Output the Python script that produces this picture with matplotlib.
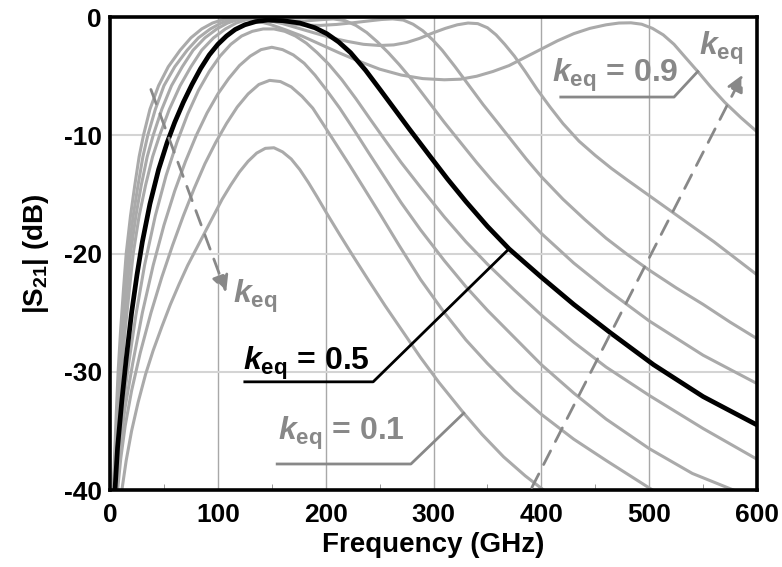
import matplotlib
matplotlib.use("Agg")
import matplotlib.pyplot as plt

plt.rcParams['font.family'] = ['Liberation Sans', 'DejaVu Sans']
plt.rcParams['font.weight'] = 'bold'
plt.rcParams['axes.unicode_minus'] = False
plt.rcParams['mathtext.fontset'] = 'custom'
plt.rcParams['mathtext.rm'] = 'Liberation Sans:bold'
plt.rcParams['mathtext.it'] = 'Liberation Sans:italic:bold'
plt.rcParams['mathtext.bf'] = 'Liberation Sans:bold'

# |S21| curves, (GHz, dB) per coupling factor
k_values = [0.1, 0.2, 0.3, 0.4, 0.5, 0.6, 0.7, 0.8, 0.9]

f_01 = [11, 15, 20, 26, 33, 40, 48, 56, 64, 72, 80, 88, 96, 104, 112, 120, 128, 136, 144, 152,
        160, 168, 176, 184, 192, 201, 213, 226, 240, 255, 270, 288, 305, 328, 345, 365, 385, 402]
s_01 = [-40, -37.5, -35.0, -32.6, -30.2, -28.2, -26.2, -24.3, -22.6, -21.0, -19.6, -18.2, -16.8, -15.4, -14.2, -13.1, -12.2, -11.5, -11.1, -11.05,
        -11.4, -12.0, -12.9, -14.0, -15.2, -16.6, -18.4, -20.3, -22.3, -24.4, -26.4, -28.8, -30.9, -33.5, -35.3, -37.2, -38.8, -40]

f_02 = [7, 10, 14, 20, 28, 38, 48, 58, 68, 78, 88, 98, 108, 118, 128, 138, 148, 158, 168, 178,
        188, 198, 210, 222, 235, 250, 268, 288, 310, 330, 350, 375, 400, 430, 460, 503]
s_02 = [-40, -37.3, -34.6, -31.6, -28.4, -25.0, -22.0, -19.3, -16.8, -14.5, -12.4, -10.6, -9.0, -7.6, -6.5, -5.7, -5.35, -5.45, -5.9, -6.7,
        -7.7, -9.1, -10.8, -12.5, -14.4, -16.6, -19.3, -22.2, -25.0, -27.3, -29.3, -31.6, -33.6, -35.7, -37.5, -40]

f_03 = [5.5, 9, 14, 21, 30, 40, 50, 60, 70, 80, 90, 100, 110, 120, 130, 140, 150, 160, 170, 180,
        190, 201, 213, 226, 240, 255, 270, 288, 310, 330, 350, 375, 400, 430, 460, 500, 540, 578]
s_03 = [-40, -36.5, -33, -29.3, -25, -21, -17.6, -14.7, -12.2, -10.0, -8.1, -6.5, -5.2, -4.1, -3.3, -2.75, -2.55, -2.75, -3.2, -3.9,
        -4.9, -6.2, -7.7, -9.5, -11.5, -13.6, -15.7, -18.0, -20.6, -22.8, -24.8, -27.1, -29.4, -31.8, -34.0, -36.5, -38.6, -40]

f_04 = [5, 8, 12, 17, 24, 32, 42, 52, 62, 72, 82, 92, 102, 112, 122, 132, 142, 152, 162, 172,
        182, 192, 203, 215, 228, 241, 255, 270, 288, 310, 330, 350, 375, 400, 430, 460, 500, 550, 600]
s_04 = [-40, -36.5, -33, -29.5, -25.2, -21, -16.8, -13.4, -10.6, -8.2, -6.2, -4.6, -3.3, -2.3, -1.6, -1.2, -1.0, -1.0, -1.2, -1.6,
        -2.2, -3.0, -4.0, -5.3, -6.9, -8.6, -10.4, -12.3, -14.4, -16.9, -19.0, -20.9, -23.1, -25.2, -27.5, -29.6, -32.0, -34.8, -37.4]

f_05 = [4.6, 7, 11, 15, 20, 25, 30, 37, 45, 53, 60, 68, 76, 84, 92, 100, 108, 116, 125, 135, 146,
        160, 176, 190, 201, 212, 223, 237, 251, 264, 277, 287, 297, 313, 330, 350, 370, 400, 430, 464,
        504, 550, 600]
s_05 = [-40, -36.4, -32.4, -28.9, -25.0, -21.8, -19.0, -15.8, -12.9, -10.6, -8.9, -7.2, -5.7, -4.35, -3.2, -2.3, -1.6, -1.05, -0.65, -0.38, -0.25,
        -0.3, -0.5, -0.9, -1.4, -2.1, -3.0, -4.5, -6.2, -7.8, -9.4, -10.6, -11.8, -13.7, -15.6, -17.7, -19.6, -22.0, -24.3, -26.7,
        -29.4, -32.1, -34.5]

f_06 = [4.1, 6, 8, 10.5, 14, 18, 21.5, 27, 33, 39.5, 46, 55, 65, 75, 85, 96, 107, 117, 127, 137,
        150, 165, 180, 195, 207, 218, 228, 238, 248, 258, 268, 280, 295, 310, 325, 340, 355, 375, 400,
        430, 460, 500, 550, 600]
s_06 = [-40, -36.5, -33.5, -30, -26.5, -23, -20, -16.8, -14.2, -11.8, -10, -7.8, -5.8, -4.2, -2.8, -1.75, -1.0, -0.5, -0.2, -0.05,
        -0.15, -0.3, -0.33, -0.22, -0.15, -0.3, -0.7, -1.3, -2.1, -3.0, -4.0, -5.3, -7.1, -8.9, -10.6, -12.3, -13.9, -15.9, -18.3,
        -20.8, -23.0, -25.7, -28.6, -31.0]

f_07 = [3.7, 5.5, 7.2, 9.2, 12.3, 15.8, 19, 24, 29, 34.5, 40, 48, 57, 67, 77, 88, 99, 109, 119, 129,
        140, 152, 165, 180, 195, 210, 225, 240, 252, 262, 272, 281, 290, 299, 308, 320, 333, 346, 360,
        373, 386, 400, 420, 440, 460, 480, 500, 525, 550, 575, 600]
s_07 = [-40, -36.5, -33.5, -30, -26.5, -23, -20, -16.8, -14.2, -11.8, -10, -7.8, -5.8, -4.2, -2.8, -1.75, -1.0, -0.5, -0.2, -0.05,
        -0.15, -0.35, -0.55, -0.68, -0.7, -0.62, -0.48, -0.32, -0.2, -0.15, -0.25, -0.6, -1.15, -1.9, -2.8, -4.2, -5.8, -7.4, -9.0,
        -10.5, -12.0, -13.5, -15.4, -17.1, -18.7, -20.1, -21.4, -22.9, -24.3, -25.8, -27.2]

f_08 = [3.3, 5, 6.5, 8.3, 11, 14, 17, 21.5, 26, 30.5, 35, 42, 50, 60, 71.5, 82, 93, 103, 113, 123,
        133, 145, 160, 175, 190, 205, 220, 235, 250, 263, 275, 287, 299, 311, 322, 332, 341, 350, 358,
        366, 375, 385, 396, 408, 420, 435, 450, 465, 480, 500, 520, 540, 560, 580, 600]
s_08 = [-40, -36.5, -33.5, -30, -26.5, -23, -20, -16.8, -14.2, -11.8, -10, -7.8, -5.8, -4.2, -2.8, -1.75, -1.0, -0.5, -0.2, -0.05,
        -0.1, -0.25, -0.55, -0.95, -1.35, -1.75, -2.05, -2.3, -2.4, -2.35, -2.15, -1.8, -1.35, -0.95, -0.65, -0.5, -0.55, -0.9, -1.5,
        -2.3, -3.3, -4.6, -6.1, -7.6, -9.0, -10.5, -11.7, -12.8, -13.8, -15.1, -16.4, -17.7, -19.0, -20.4, -21.8]

f_09 = [3, 4.5, 5.8, 7.5, 9.8, 12.5, 15, 19, 23, 27, 31, 37, 45, 54, 65, 75, 85, 95, 105, 115,
        125, 135, 148, 162, 178, 195, 212, 230, 250, 270, 290, 310, 325, 340, 355, 370, 385, 400, 415,
        430, 445, 460, 472, 483, 493, 503, 513, 523, 533, 545, 557, 570, 585, 600]
s_09 = [-40, -36.5, -33.5, -30, -26.5, -23, -20, -16.8, -14.2, -11.8, -10, -7.8, -5.8, -4.2, -2.8, -1.75, -1.0, -0.5, -0.2, -0.05,
        -0.1, -0.3, -0.6, -1.05, -1.6, -2.3, -3.0, -3.7, -4.4, -4.9, -5.2, -5.3, -5.25, -5.0, -4.6, -4.1, -3.4, -2.7, -2.0,
        -1.4, -0.95, -0.65, -0.5, -0.48, -0.6, -0.95, -1.5, -2.3, -3.35, -4.6, -5.9, -7.2, -8.5, -9.7]

freqs = [f_01, f_02, f_03, f_04, f_05, f_06, f_07, f_08, f_09]
s21 = [s_01, s_02, s_03, s_04, s_05, s_06, s_07, s_08, s_09]

gray = '#aaaaaa'
dark_gray = '#888888'

fig = plt.figure(figsize=(7.82, 5.67), dpi=100)
ax = fig.add_axes([0.1407, 0.1358, 0.8274, 0.834])

for k, f, s in zip(k_values, freqs, s21):
    if k == 0.5:
        continue
    ax.plot(f, s, color=gray, lw=2.2, zorder=3, solid_joinstyle='round')
ax.plot(f_05, s_05, color='black', lw=3.4, zorder=4, solid_joinstyle='round')

ax.set_xlim(0, 600)
ax.set_ylim(-40, 0)
ax.set_xticks([0, 100, 200, 300, 400, 500, 600])
ax.set_yticks([-40, -30, -20, -10, 0])
ax.set_xticks([50, 150, 250, 350, 450, 550], minor=True)
ax.tick_params(which='major', direction='in', length=0, labelsize=19)
ax.tick_params(axis='x', which='major', pad=9)
ax.tick_params(axis='y', which='major', pad=6)
ax.tick_params(which='minor', direction='in', length=4, color='#888888')
ax.grid(True, axis='x', color='#a8a8a8', lw=1.0)
ax.grid(True, axis='y', color='#d4d4d4', lw=1.5)
ax.set_axisbelow(True)
for sp in ax.spines.values():
    sp.set_linewidth(2.6)
    sp.set_zorder(5)

ax.set_xlabel('Frequency (GHz)', fontsize=20, fontweight='bold', labelpad=4)
ax.set_ylabel(r'|S$_{\mathrm{21}}$| (dB)', fontsize=20, fontweight='bold', labelpad=9)

keq = r'$k_{\mathrm{eq}}$'

# k_eq = 0.5 label with leader
ax.text(123, -29.8, keq + ' = 0.5', fontsize=23, color='black', zorder=6)
ax.plot([125, 244, 370], [-30.85, -30.85, -19.6], color='black', lw=2.0, zorder=6)

# k_eq = 0.1 label with leader
ax.text(156, -35.8, keq + ' = 0.1', fontsize=23, color=dark_gray, zorder=6)
ax.plot([155, 279, 328], [-37.8, -37.8, -33.5], color=dark_gray, lw=2.0, zorder=6)

# k_eq = 0.9 label with leader
ax.text(410, -5.5, keq + ' = 0.9', fontsize=23, color=dark_gray, zorder=6)
ax.plot([418, 523, 545], [-6.76, -6.76, -4.6], color=dark_gray, lw=2.0, zorder=6)

# direction arrows
ax.annotate('', xy=(108.6, -23.5), xytext=(37, -5.9),
            arrowprops=dict(arrowstyle='-|>', color=dark_gray, lw=2.0, ls=(0, (5.5, 3.8)),
                            mutation_scale=25), zorder=6)
ax.text(114, -24.2, keq, fontsize=23, color=dark_gray, zorder=6)
ax.annotate('', xy=(588, -4.65), xytext=(390, -40),
            arrowprops=dict(arrowstyle='-|>', color=dark_gray, lw=2.0, ls=(0, (5.5, 3.8)),
                            mutation_scale=25), zorder=6)
ax.text(546, -3.2, keq, fontsize=23, color=dark_gray, zorder=6)

fig.savefig('out.png', dpi=100)
